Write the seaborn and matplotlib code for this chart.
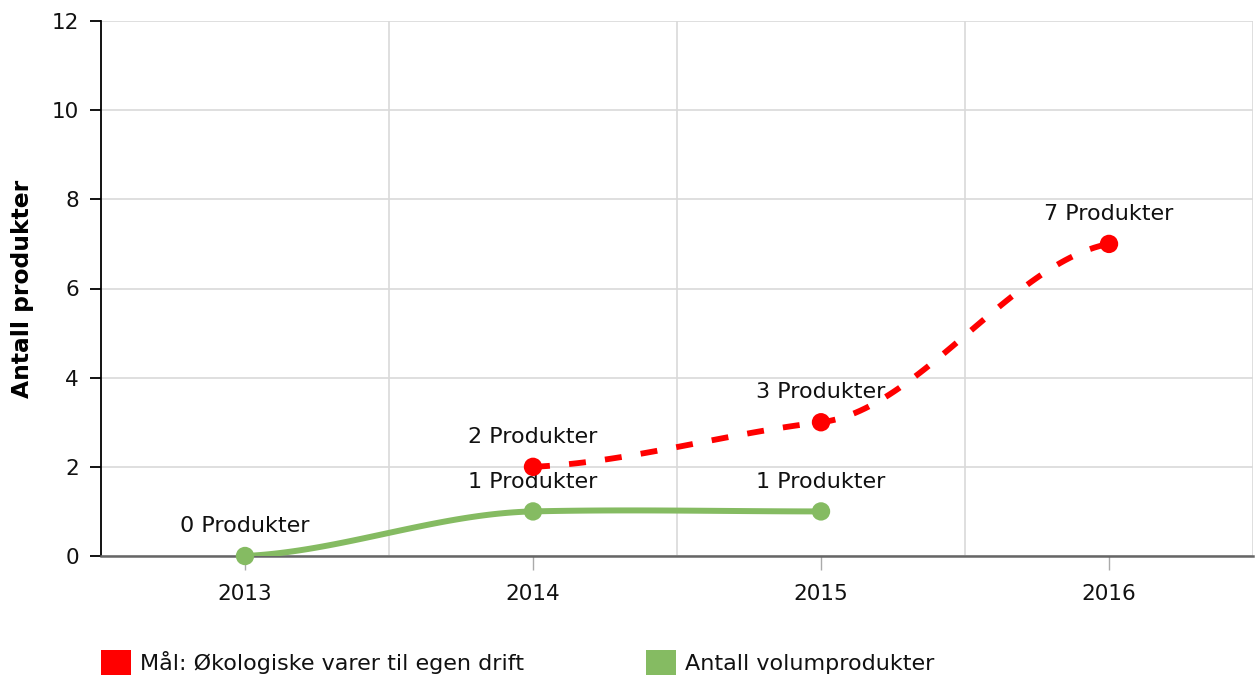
import numpy as np
import matplotlib
matplotlib.use("Agg")
import matplotlib.pyplot as plt
import seaborn as sns
from matplotlib.patches import Patch

years = ["2013", "2014", "2015", "2016"]
goal_x = [1, 2, 3]
goal_y = [2, 3, 7]
volume_x = [0, 1, 2]
volume_y = [0, 1, 1]
goal_name = "Mål: Økologiske varer til egen drift"
volume_name = "Antall volumprodukter"
ylabel = "Antall produkter"

red = "#ff0000"
green = "#85bb62"

sns.set_theme(style="white")
plt.rcParams["font.family"] = ["DejaVu Sans"]


def smooth(xs, ys, k=0.3, n=60):
    # cardinal-type hermite curve through the points, only for drawing
    xs = np.asarray(xs, float)
    ys = np.asarray(ys, float)
    m = np.zeros(len(xs))
    m[0] = k * (ys[1] - ys[0]) / (xs[1] - xs[0])
    m[-1] = k * (ys[-1] - ys[-2]) / (xs[-1] - xs[-2])
    for i in range(1, len(xs) - 1):
        m[i] = k * (ys[i + 1] - ys[i - 1]) / (xs[i + 1] - xs[i - 1])
    px, py = [], []
    t = np.linspace(0, 1, n)
    for i in range(len(xs) - 1):
        h = xs[i + 1] - xs[i]
        h00 = 2 * t ** 3 - 3 * t ** 2 + 1
        h10 = t ** 3 - 2 * t ** 2 + t
        h01 = -2 * t ** 3 + 3 * t ** 2
        h11 = t ** 3 - t ** 2
        yy = h00 * ys[i] + h10 * h * m[i] + h01 * ys[i + 1] + h11 * h * m[i + 1]
        xx = xs[i] + t * h
        s = 0 if i == 0 else 1
        px.extend(xx[s:])
        py.extend(yy[s:])
    return np.array(px), np.array(py)


fig = plt.figure(figsize=(12.56, 6.77), dpi=100)
ax = fig.add_axes([101 / 1256, 1 - 556 / 677, (1253 - 101) / 1256, (556 - 21) / 677])

gx, gy = smooth(goal_x, goal_y)
vx, vy = smooth(volume_x, volume_y)
sns.lineplot(x=vx, y=vy, sort=False, estimator=None, color=green, linewidth=4.3, ax=ax, zorder=3)
sns.lineplot(x=gx, y=gy, sort=False, estimator=None, color=red, linewidth=4.2, ax=ax, zorder=3,
             linestyle=(0, (2.9, 3.3)))
ax.lines[-1].set_dash_capstyle("butt")
sns.scatterplot(x=volume_x, y=volume_y, color=green, s=175, edgecolor="none", ax=ax, zorder=4, clip_on=False)
sns.scatterplot(x=goal_x, y=goal_y, color=red, s=175, edgecolor="none", ax=ax, zorder=4, clip_on=False)

for x, y in zip(goal_x, goal_y):
    ax.annotate(f"{y} Produkter", (x, y), xytext=(0, 21.5), textcoords="offset points",
                ha="center", va="center", fontsize=16, color="#111111")
for x, y in zip(volume_x, volume_y):
    ax.annotate(f"{y} Produkter", (x, y), xytext=(0, 21.5), textcoords="offset points",
                ha="center", va="center", fontsize=16, color="#111111")

ax.set_xlim(-0.5, 3.5)
ax.set_ylim(0, 12)
ax.set_xticks(range(len(years)))
ax.set_xticklabels(years)
ax.set_xticks([0.5, 1.5, 2.5, 3.5], minor=True)
ax.set_yticks(range(0, 13, 2))
ax.grid(axis="y", which="major", color="#d9d9d9", linewidth=1.2)
ax.grid(axis="x", which="minor", color="#d9d9d9", linewidth=1.2)
ax.set_axisbelow(True)

ax.tick_params(axis="x", which="major", length=10, width=1, color="#aaaaaa", pad=10,
               labelsize=15.5, labelcolor="#111111", bottom=True)
ax.tick_params(axis="x", which="minor", length=0)
ax.tick_params(axis="y", length=8, width=1.3, color="#000000", pad=8,
               labelsize=15.5, labelcolor="#111111", left=True)

for s in ["top", "right"]:
    ax.spines[s].set_visible(False)
ax.spines["left"].set_color("#000000")
ax.spines["left"].set_linewidth(1.3)
ax.spines["bottom"].set_color("#666666")
ax.spines["bottom"].set_linewidth(1.8)

ax.set_ylabel(ylabel, fontsize=16.8, fontweight="bold", color="#000000")
ax.yaxis.set_label_coords(-67 / 1152, 0.5)
ax.set_xlabel("")

handles = [Patch(facecolor=red, edgecolor="none"), Patch(facecolor=green, edgecolor="none")]
leg = fig.legend(handles, [goal_name, volume_name], loc="lower left",
                 bbox_to_anchor=(101 / 1256, 2 / 677), ncol=2, frameon=False, fontsize=16,
                 handlelength=1.35, handleheight=1.35, handletextpad=0.4, columnspacing=5.5,
                 borderpad=0, borderaxespad=0)
for txt in leg.get_texts():
    txt.set_color("#111111")

fig.savefig("out.png", dpi=100)
